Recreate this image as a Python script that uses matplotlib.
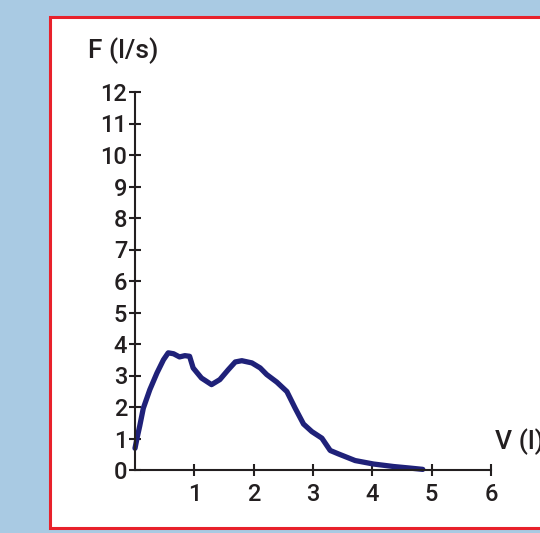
import matplotlib

matplotlib.use("Agg")
import matplotlib.pyplot as plt
from matplotlib.patches import Rectangle

plt.rcParams["font.family"] = ["Roboto", "DejaVu Sans"]

# flow-volume curve
volume = [0.0, 0.04, 0.08, 0.14, 0.25, 0.37, 0.48, 0.56, 0.65, 0.75, 0.84, 0.92, 0.98,
          1.12, 1.29, 1.43, 1.57, 1.69, 1.80, 1.97, 2.11, 2.22, 2.39, 2.56, 2.70,
          2.84, 2.98, 3.15, 3.29, 3.43, 3.55, 3.71, 4.02, 4.36, 4.64, 4.85]
flow = [0.69, 1.06, 1.40, 1.96, 2.55, 3.08, 3.50, 3.72, 3.69, 3.59, 3.63, 3.61, 3.24,
        2.92, 2.71, 2.87, 3.18, 3.43, 3.47, 3.40, 3.24, 3.03, 2.79, 2.49, 1.96,
        1.46, 1.22, 1.01, 0.62, 0.51, 0.42, 0.30, 0.19, 0.11, 0.06, 0.02]
x_ticks = [1, 2, 3, 4, 5, 6]
y_ticks = list(range(0, 13))

W, H = 540, 533
TXT = "#231f20"

fig = plt.figure(figsize=(W / 100, H / 100), dpi=100)
fig.patch.set_facecolor("#a9cae3")

# white panel with red frame (right side runs off the picture)
fig.patches.append(Rectangle((50 / W, 1 - 528 / H), 600 / W, 511 / H,
                             transform=fig.transFigure, facecolor="white",
                             edgecolor="#e8212b", linewidth=2.2, zorder=-5))

ax = fig.add_axes([135 / W, 1 - 470 / H, 356 / W, 378 / H])
ax.set_zorder(2)
ax.set_facecolor("none")
ax.plot(volume, flow, color="#1f2179", linewidth=3.8, solid_capstyle="round",
        solid_joinstyle="round", clip_on=False)

ax.set_xlim(0, 6)
ax.set_ylim(0, 12)
ax.set_xticks(x_ticks)
ax.set_yticks(y_ticks)
for side in ("top", "right"):
    ax.spines[side].set_visible(False)
for side in ("left", "bottom"):
    ax.spines[side].set_color(TXT)
    ax.spines[side].set_linewidth(1.5)
ax.tick_params(axis="both", direction="inout", length=9, width=1.5, color=TXT,
               labelsize=17, labelcolor=TXT)
ax.tick_params(axis="y", pad=1)
ax.tick_params(axis="x", pad=5)
for lab in ax.get_xticklabels() + ax.get_yticklabels():
    lab.set_fontweight("medium")

fig.text(88 / W, 1 - 51 / H, "F (l/s)", fontsize=19, color=TXT, va="center",
         ha="left", fontweight="medium", zorder=3)
fig.text(495 / W, 1 - 442 / H, "V (l)", fontsize=19, color=TXT, va="center",
         ha="left", fontweight="medium", zorder=3)

fig.savefig("out.png", dpi=100, facecolor=fig.get_facecolor())
